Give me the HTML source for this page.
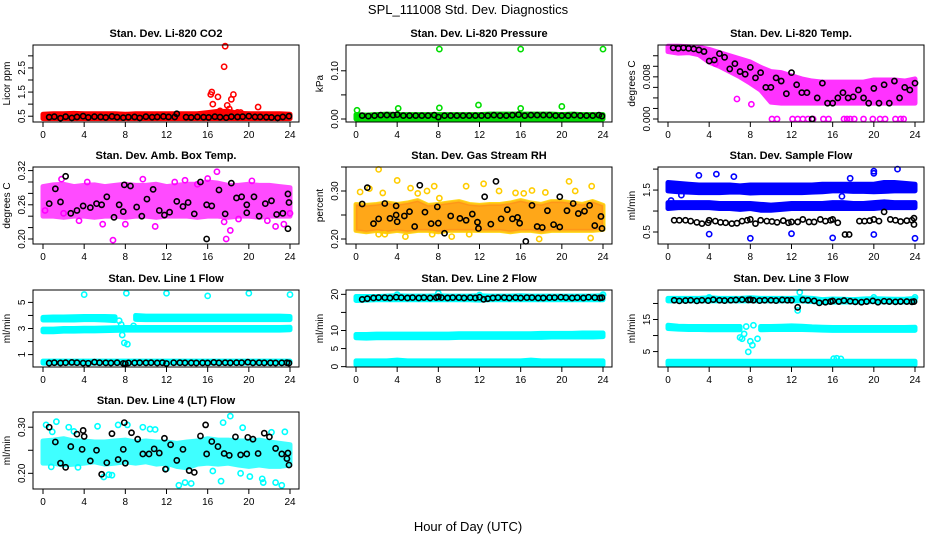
<!DOCTYPE html>
<html><head><meta charset="utf-8"><style>
html,body{margin:0;padding:0;background:#fff;}
svg{display:block;font-family:"Liberation Sans",sans-serif;}
</style></head><body>
<svg id="chart" width="936" height="540" viewBox="0 0 936 540">
<text x="468" y="14" text-anchor="middle" font-size="13">SPL_111008  Std. Dev. Diagnostics</text>
<text x="468" y="531" text-anchor="middle" font-size="13">Hour of Day (UTC)</text>
</svg>
<script>
// ---- data ----
const bandHours=[0,1,2,3,4,5,6,7,8,9,10,11,12,13,14,15,16,17,18,19,20,21,22,23,24];
// CO2
const co2Lo=[0.4,0.4,0.4,0.4,0.4,0.4,0.4,0.4,0.4,0.4,0.4,0.4,0.4,0.4,0.4,0.4,0.4,0.4,0.4,0.4,0.4,0.4,0.4,0.4,0.4];
const co2Hi=[0.58,0.6,0.6,0.62,0.6,0.6,0.6,0.6,0.58,0.6,0.6,0.6,0.6,0.6,0.6,0.6,0.65,0.7,0.7,0.62,0.6,0.6,0.6,0.6,0.58];
const co2OutX=[16.3,16.4,16.5,17.0,17.2,17.6,17.7,17.9,18.1,18.3,18.5,18.9,19.2,20.9];
const co2OutY=[1.4,1.5,1.0,1.3,0.72,2.55,3.4,0.95,0.8,1.2,1.4,0.66,0.65,0.88];
const co2BlkX=[0.6,1.1,1.7,2.2,2.8,3.3,3.9,4.4,5.0,5.6,6.1,6.7,7.2,7.8,8.3,8.9,9.4,10.0,10.6,11.1,11.7,12.2,12.8,13.0,13.9,14.4,15.0,15.6,16.1,16.7,17.2,17.8,18.3,18.9,19.4,20.0,20.6,21.1,21.7,22.2,22.8,23.3,23.9];
const co2BlkY=[0.46,0.48,0.42,0.48,0.43,0.47,0.5,0.45,0.48,0.47,0.45,0.49,0.46,0.44,0.46,0.47,0.43,0.48,0.46,0.47,0.49,0.47,0.47,0.6,0.46,0.45,0.47,0.46,0.45,0.48,0.46,0.44,0.48,0.47,0.48,0.5,0.47,0.47,0.46,0.45,0.43,0.47,0.5];
// Pressure
const prLo=[0,0,0,0,0,0,0,0,0,0,0,0,0,0,0,0,0,0,0,0,0,0,0,0,0];
const prHi=[0.009,0.008,0.009,0.01,0.009,0.009,0.009,0.009,0.009,0.009,0.009,0.009,0.009,0.01,0.01,0.01,0.01,0.01,0.01,0.01,0.009,0.01,0.009,0.009,0.009];
const prOutX=[0.1,4.1,8.1,8.1,11.9,16.0,16.0,20.0,24.0];
const prOutY=[0.018,0.022,0.145,0.023,0.029,0.145,0.022,0.026,0.145];
const prBlkX=[0.6,1.2,1.8,2.4,3.0,3.6,4.0,4.6,5.2,5.8,6.4,7.0,7.6,8.0,8.6,9.2,9.8,10.4,11.0,11.6,12.2,12.8,13.4,14.0,14.6,15.2,15.8,16.4,17.0,17.6,18.2,18.8,19.4,20.0,20.6,21.2,21.8,22.4,23.0,23.6,23.9];
const prBlkY=[0.007,0.006,0.007,0.008,0.008,0.008,0.009,0.007,0.007,0.007,0.007,0.007,0.008,0.004,0.007,0.007,0.007,0.007,0.007,0.007,0.007,0.007,0.008,0.007,0.007,0.008,0.009,0.007,0.008,0.008,0.008,0.008,0.007,0.007,0.007,0.008,0.007,0.007,0.007,0.008,0.006];
// Li-820 Temp
const tLo=[0.0128,0.0125,0.0126,0.0122,0.0108,0.0100,0.0090,0.0080,0.0068,0.0055,0.0032,0.003,0.003,0.003,0.003,0.003,0.003,0.003,0.003,0.003,0.003,0.003,0.003,0.003,0.003];
const tHi=[0.0138,0.0138,0.0137,0.0136,0.0132,0.0126,0.012,0.0114,0.0108,0.0098,0.0090,0.0088,0.0082,0.0076,0.0072,0.0070,0.0070,0.0070,0.0070,0.0070,0.0074,0.0074,0.0074,0.0072,0.0076];
const tOutX=[10.1,10.6,12.1,12.6,13.1,13.6,14.1,15.1,15.6,17.1,17.4,17.7,18.1,19.0,19.9,20.6,21.1,22.1,22.6,22.9,4.6,6.7,8.1];
const tOutY=[0,0,0,0,0,0,0,0,0,0,0,0,0,0,0,0,0,0,0,0,0.0105,0.0038,0.0028];
const tBlkX=[0.5,1.0,1.5,2.0,2.5,3.0,3.5,4.0,4.5,5.0,5.5,6.0,6.5,7.0,7.5,8.0,8.5,9.0,9.5,10.0,10.5,11.0,11.5,12.0,12.5,13.0,13.5,14.0,14.5,15.0,15.5,16.0,16.5,17.0,17.5,18.0,18.5,19.0,19.5,20.0,20.5,21.0,21.5,22.0,22.5,23.0,23.5,24.0];
const tBlkY=[0.0135,0.0134,0.0135,0.0134,0.0133,0.0131,0.0128,0.0110,0.0112,0.0124,0.0117,0.0095,0.0105,0.009,0.0085,0.0098,0.0078,0.0088,0.006,0.006,0.0078,0.0072,0.0048,0.0088,0.0065,0.005,0.005,0,0.0040,0.0068,0.0030,0.0030,0.0040,0.0050,0.0040,0.0042,0.0055,0.0040,0.0030,0.0058,0.0030,0.0065,0.0030,0.0072,0.0040,0.0060,0.0055,0.0068];
// Amb box temp
const abLo=[0.24,0.24,0.238,0.24,0.24,0.238,0.24,0.24,0.238,0.24,0.24,0.238,0.24,0.24,0.24,0.238,0.24,0.24,0.238,0.24,0.24,0.238,0.24,0.24,0.24];
const abHi=[0.292,0.295,0.296,0.292,0.294,0.295,0.292,0.294,0.296,0.294,0.294,0.296,0.292,0.294,0.296,0.296,0.3,0.298,0.294,0.294,0.296,0.294,0.294,0.292,0.29];
const abOutX=[0.2,1.8,3.5,5.8,6.8,8.0,9.7,10.9,13.8,15.0,16.0,16.9,17.8,17.6,19.0,20.3,21.8,22.6,23.4,24.0,4.3,12.8,18.2,2.0];
const abOutY=[0.25,0.305,0.232,0.226,0.198,0.226,0.305,0.222,0.303,0.296,0.306,0.318,0.2,0.23,0.235,0.302,0.232,0.222,0.226,0.245,0.3,0.3,0.215,0.245];
const abBlkX=[0.6,1.2,1.7,2.2,2.7,3.3,3.9,4.6,5.2,5.7,6.2,6.9,7.4,7.9,7.8,8.5,9.1,9.6,10.1,10.7,11.3,11.8,12.3,13.0,13.6,14.1,14.7,15.3,15.9,15.9,16.4,17.1,17.7,18.3,18.8,19.3,19.8,19.8,20.5,21.0,21.6,22.2,22.7,23.3,23.8,23.9,23.8];
const abBlkY=[0.262,0.288,0.265,0.31,0.245,0.25,0.258,0.255,0.262,0.26,0.274,0.238,0.26,0.295,0.248,0.293,0.256,0.24,0.27,0.287,0.25,0.242,0.247,0.266,0.257,0.264,0.244,0.3,0.26,0.2,0.258,0.286,0.244,0.298,0.272,0.274,0.26,0.246,0.274,0.24,0.262,0.267,0.243,0.245,0.279,0.264,0.218];
// Gas stream RH
const rhLo=[0.218,0.215,0.218,0.215,0.218,0.215,0.218,0.218,0.215,0.218,0.218,0.218,0.218,0.218,0.218,0.215,0.218,0.218,0.215,0.218,0.218,0.218,0.218,0.218,0.22];
const rhHi=[0.272,0.27,0.272,0.275,0.272,0.275,0.28,0.27,0.272,0.275,0.278,0.272,0.27,0.272,0.272,0.275,0.28,0.275,0.272,0.278,0.278,0.275,0.272,0.278,0.27];
const rhOutX=[0.4,1.3,2.2,2.2,2.6,4.0,4.8,5.3,6.0,6.9,7.6,8.1,9.3,10.7,11.0,12.4,13.9,15.5,16.3,17.1,17.8,18.4,20.7,21.3,22.8,22.9,2.8,7.4];
const rhOutY=[0.298,0.305,0.345,0.21,0.296,0.322,0.205,0.306,0.295,0.3,0.31,0.285,0.205,0.31,0.21,0.315,0.3,0.296,0.295,0.301,0.2,0.297,0.32,0.3,0.202,0.31,0.21,0.21];
const rhBlkX=[0.6,1.1,1.7,2.2,2.8,3.3,3.9,3.9,4.0,4.7,5.2,5.7,6.2,6.7,7.3,7.9,8.0,8.6,9.2,10.1,10.7,11.3,11.8,11.9,12.5,13.1,13.6,14.1,14.7,15.2,15.7,15.9,16.5,17.1,17.6,18.1,18.6,19.2,19.8,19.8,20.5,21.1,21.6,22.2,22.7,23.2,23.8,23.9];
const rhBlkY=[0.273,0.307,0.232,0.242,0.274,0.243,0.269,0.25,0.236,0.248,0.257,0.226,0.312,0.256,0.232,0.267,0.233,0.212,0.248,0.243,0.239,0.252,0.235,0.222,0.288,0.231,0.32,0.242,0.261,0.242,0.245,0.233,0.195,0.27,0.226,0.224,0.259,0.23,0.288,0.225,0.259,0.274,0.253,0.258,0.27,0.228,0.247,0.222];
// Sample flow
const sfUpLo=[1.48,1.46,1.45,1.44,1.44,1.44,1.45,1.45,1.43,1.44,1.44,1.44,1.44,1.44,1.45,1.46,1.48,1.48,1.47,1.47,1.46,1.47,1.48,1.48,1.48];
const sfUpHi=[1.68,1.66,1.64,1.62,1.62,1.62,1.62,1.6,1.62,1.62,1.62,1.62,1.62,1.62,1.62,1.64,1.64,1.64,1.64,1.64,1.64,1.68,1.68,1.66,1.64];
const sfMidLo=[1.06,1.08,1.08,1.08,1.08,1.06,1.06,1.04,1.06,1.02,1.02,1.04,1.06,1.06,1.06,1.06,1.06,1.06,1.06,1.06,1.06,1.08,1.08,1.08,1.08];
const sfMidHi=[1.2,1.2,1.2,1.2,1.2,1.18,1.18,1.18,1.18,1.16,1.14,1.16,1.18,1.18,1.18,1.18,1.2,1.2,1.18,1.18,1.2,1.22,1.2,1.2,1.2];
const sfOutX=[4.0,8.0,12.0,16.0,20.0,24.0,3.0,4.7,6.4,20.0,20.0,22.3,17.7,0.3,1.3,16.9];
const sfOutY=[0.45,0.35,0.46,0.36,0.44,0.35,1.85,1.88,1.82,1.95,1.9,2.0,1.78,1.25,1.38,1.35];
const sfBlkX=[0.6,1.1,1.7,2.2,2.8,3.3,3.9,4.0,4.6,5.1,5.6,6.2,6.7,7.2,7.7,8.0,8.5,9.0,9.6,10.1,10.6,11.2,11.7,12.0,12.6,13.1,13.7,14.2,14.8,15.3,15.8,16.0,16.5,17.2,17.6,18.6,19.1,19.6,20.0,20.5,21.0,21.6,22.1,22.6,23.2,23.7,23.9,23.9];
const sfBlkY=[0.78,0.78,0.78,0.76,0.73,0.7,0.72,0.78,0.76,0.73,0.72,0.7,0.71,0.76,0.78,0.8,0.7,0.78,0.76,0.75,0.73,0.77,0.72,0.74,0.74,0.8,0.74,0.74,0.8,0.76,0.78,0.8,0.72,0.44,0.44,0.76,0.76,0.77,0.8,0.76,0.98,0.8,0.78,0.75,0.77,0.78,0.68,0.83];
// Line 1 flow
const l1UpLo=[3.65,3.65,3.65,3.65,3.68,3.68,3.65,3.6,null,3.7,3.68,3.68,3.68,3.68,3.68,3.68,3.68,3.68,3.68,3.68,3.68,3.68,3.68,3.68,3.68];
const l1UpHi=[3.85,3.88,3.88,3.9,3.92,3.92,3.92,3.9,null,4.0,3.95,3.95,3.95,3.95,3.95,3.95,3.95,3.95,3.95,3.95,3.95,3.95,3.95,3.95,3.92];
const l1MidLo=[2.75,2.75,2.8,2.8,2.82,2.82,2.84,2.86,2.88,2.88,2.88,2.88,2.88,2.88,2.88,2.88,2.88,2.88,2.88,2.88,2.88,2.88,2.88,2.88,2.9];
const l1MidHi=[2.95,2.95,3.0,3.0,3.02,3.02,3.04,3.06,3.08,3.08,3.08,3.08,3.08,3.08,3.08,3.08,3.08,3.08,3.08,3.08,3.08,3.08,3.08,3.08,3.1];
const l1LoLo=[0.35,0.35,0.35,0.35,0.35,0.35,0.35,0.35,0.35,0.35,0.35,0.35,0.35,0.35,0.35,0.35,0.35,0.35,0.35,0.35,0.35,0.35,0.35,0.35,0.35];
const l1LoHi=[0.5,0.5,0.5,0.5,0.5,0.5,0.5,0.5,0.5,0.5,0.5,0.5,0.5,0.5,0.5,0.5,0.5,0.5,0.5,0.5,0.5,0.5,0.5,0.5,0.5];
const l1OutX=[4.0,8.1,12.0,16.0,20.0,24.0,7.4,7.6,7.7,7.9,8.2,8.8];
const l1OutY=[5.6,5.7,5.7,5.5,5.7,5.6,3.6,3.3,2.5,1.9,1.8,3.2];
const l1BlkX=[0.6,1.1,1.7,2.2,2.8,3.3,3.9,4.4,5.0,5.5,6.1,6.6,7.2,7.8,8.0,8.3,8.9,9.4,10.0,10.5,11.1,11.6,12.0,12.7,13.3,13.8,14.4,14.9,15.5,16.0,16.6,17.1,17.7,18.2,18.8,19.3,19.9,20.4,21.0,21.5,22.1,22.6,23.2,23.7,23.9];
const l1BlkY=[0.35,0.38,0.36,0.38,0.4,0.38,0.35,0.34,0.42,0.38,0.37,0.36,0.38,0.33,0.3,0.36,0.37,0.38,0.37,0.38,0.36,0.38,0.32,0.38,0.38,0.37,0.37,0.36,0.37,0.36,0.4,0.37,0.38,0.37,0.38,0.38,0.42,0.37,0.38,0.37,0.37,0.36,0.37,0.38,0.35];
// Line 2 flow
const l2UpLo=[18.3,18.4,18.5,18.5,18.5,18.5,18.5,18.5,18.5,18.5,18.5,18.5,18.4,18.5,18.5,18.5,18.5,18.5,18.5,18.5,18.5,18.5,18.5,18.5,18.5];
const l2UpHi=[19.4,19.4,19.4,19.5,19.6,19.5,19.5,19.5,19.6,19.5,19.5,19.5,19.6,19.5,19.5,19.5,19.6,19.5,19.5,19.5,19.5,19.5,19.5,19.5,19.6];
const l2MidLo=[8.0,7.9,8.0,8.0,8.0,8.0,8.0,8.0,8.0,8.0,8.1,8.1,8.1,8.1,8.1,8.1,8.1,8.1,8.1,8.2,8.2,8.2,8.2,8.2,8.3];
const l2MidHi=[8.9,8.9,9.0,9.0,9.0,9.0,9.0,9.0,9.0,9.0,9.1,9.1,9.1,9.1,9.1,9.1,9.1,9.1,9.2,9.2,9.2,9.2,9.3,9.3,9.3];
const l2LoLo=[0.5,0.5,0.5,0.5,0.5,0.5,0.5,0.5,0.5,0.5,0.5,0.5,0.5,0.5,0.5,0.5,0.5,0.5,0.5,0.5,0.5,0.5,0.5,0.5,0.5];
const l2LoHi=[1.6,1.6,1.6,1.6,1.8,1.6,1.6,1.6,1.6,1.6,1.6,1.6,1.6,1.6,1.6,1.6,1.6,1.8,1.6,1.6,1.6,1.6,1.6,1.6,1.6];
const l2OutX=[4.0,8.0,12.0,24.0];
const l2OutY=[19.9,20.3,19.8,19.9];
const l2BlkX=[0.6,1.1,1.7,2.2,2.8,3.3,3.9,4.4,5.0,5.5,6.1,6.6,7.2,7.8,8.0,8.3,8.9,9.4,10.0,10.5,11.1,11.6,12.0,12.4,12.8,13.3,13.8,14.4,14.9,15.5,16.0,16.6,17.1,17.7,18.2,18.8,19.3,19.9,20.4,21.0,21.5,22.1,22.6,23.2,23.7,23.9];
const l2BlkY=[18.6,18.8,19.0,19.1,19.1,19.0,19.2,19.1,19.0,19.1,19.0,19.1,19.0,19.1,19.3,19.1,19.0,19.1,19.1,19.0,19.1,19.0,19.2,18.6,18.8,19.0,19.1,19.1,19.0,19.1,19.0,19.1,19.1,19.0,19.0,19.1,19.1,19.2,19.1,19.0,19.1,19.0,19.2,19.1,19.0,19.1];
// Line 3 flow
const l3UpLo=[20.8,20.8,20.8,20.8,20.8,20.8,20.8,20.8,20.8,20.8,20.8,20.8,20.8,20.8,20.6,20.3,20.4,20.5,20.4,20.5,20.6,20.5,20.5,20.5,20.6];
const l3UpHi=[21.6,21.6,21.6,21.6,21.8,21.6,21.6,21.6,21.8,21.6,21.6,21.6,21.6,21.8,21.6,21.2,21.4,21.3,21.2,21.4,21.5,21.4,21.3,21.3,21.6];
const l3MidLo=[12.2,12.0,11.9,11.9,11.8,11.8,11.8,11.8,null,11.8,11.9,11.9,11.9,11.9,11.8,11.7,11.6,11.6,11.6,11.6,11.6,11.6,11.6,11.6,11.6];
const l3MidHi=[13.2,12.9,12.8,12.8,12.8,12.8,12.8,12.8,null,12.8,12.8,12.9,13.0,12.9,12.7,12.6,12.5,12.5,12.5,12.5,12.5,12.5,12.5,12.5,12.6];
const l3LoLo=[0.9,0.9,0.9,0.9,0.9,0.9,0.9,0.9,0.9,0.9,0.9,0.9,0.9,0.9,0.9,0.9,0.9,0.9,0.9,0.9,0.9,0.9,0.9,0.9,0.9];
const l3LoHi=[2.0,2.0,2.0,2.0,2.0,2.0,2.0,2.0,2.0,2.0,2.0,2.0,2.0,2.0,2.0,2.0,2.0,2.0,2.0,2.0,2.0,2.0,2.0,2.0,2.0];
const l3OutX=[7.0,7.2,7.4,7.6,7.8,8.0,8.2,8.7,8.3,12.6,12.8,16.1,16.4,16.8,4.0,20.0,24.0];
const l3OutY=[9.4,9.0,10.5,12.8,4.9,8.2,7.0,9.0,13.2,17.8,23.5,2.8,2.9,2.7,21.9,21.9,21.9];
const l3BlkX=[0.6,1.1,1.7,2.2,2.8,3.3,3.9,4.4,5.0,5.5,6.1,6.6,7.2,7.8,8.0,8.3,8.9,9.4,10.0,10.5,11.1,11.6,12.0,12.6,13.1,13.6,14.2,14.7,15.3,15.8,16.0,16.6,17.1,17.7,18.2,18.8,19.3,19.9,20.4,21.0,21.5,22.1,22.6,23.2,23.7,23.9];
const l3BlkY=[21.0,20.8,20.9,21.0,20.8,21.0,20.9,21.2,21.0,20.9,21.0,21.1,21.2,21.1,21.2,21.0,20.9,21.0,21.0,20.9,21.1,21.0,21.0,18.8,21.1,21.0,20.8,20.2,20.4,20.6,20.8,20.6,20.9,20.7,20.5,20.4,20.6,20.8,20.4,20.7,20.6,20.5,20.6,20.6,20.5,20.6];
// Line 4 flow
const l4Lo=[0.222,0.222,0.218,0.22,0.222,0.225,0.22,0.222,0.225,0.222,0.225,0.22,0.222,0.215,0.212,0.22,0.222,0.22,0.222,0.218,0.215,0.218,0.215,0.215,0.218];
const l4Hi=[0.27,0.272,0.275,0.27,0.27,0.268,0.268,0.27,0.272,0.268,0.27,0.268,0.268,0.265,0.268,0.27,0.275,0.272,0.272,0.27,0.27,0.272,0.268,0.265,0.262];
const l4OutX=[0.3,0.8,1.3,2.5,3.0,3.4,5.3,5.9,6.4,6.7,7.3,8.2,9.7,10.4,10.9,13.2,13.8,14.4,16.5,17.3,17.5,18.2,19.2,19.4,20.1,21.3,22.2,22.6,23.2,23.5,0.9,12.0,21.4];
const l4OutY=[0.305,0.214,0.312,0.3,0.291,0.213,0.302,0.192,0.197,0.196,0.305,0.305,0.3,0.296,0.295,0.174,0.18,0.178,0.205,0.183,0.31,0.324,0.2,0.299,0.193,0.188,0.289,0.18,0.174,0.29,0.29,0.21,0.18];
const l4BlkX=[0.6,1.2,1.7,2.2,2.7,3.3,3.8,3.9,4.0,4.6,5.2,5.7,6.2,6.7,7.3,7.8,7.9,8.0,8.6,9.2,9.7,10.3,10.8,11.3,11.8,11.9,12.4,13.0,13.6,14.2,14.7,15.3,15.8,15.9,16.4,17.0,17.6,18.1,18.7,19.2,19.8,19.9,20.4,20.9,21.5,22.0,22.6,23.2,23.7,23.8,23.9];
const l4BlkY=[0.3,0.268,0.222,0.213,0.258,0.285,0.252,0.293,0.28,0.227,0.25,0.198,0.223,0.286,0.23,0.252,0.31,0.222,0.288,0.274,0.242,0.242,0.253,0.244,0.276,0.209,0.262,0.228,0.252,0.206,0.202,0.281,0.305,0.242,0.269,0.258,0.243,0.239,0.279,0.24,0.242,0.278,0.274,0.243,0.287,0.279,0.254,0.242,0.232,0.244,0.218];

// ---- layout ----
const NS="http://www.w3.org/2000/svg";
const svg=document.getElementById('chart');
const colX=[33,346,658], rowY=[45,167,290,412], BW=266, BH=77;
const xTicks=[0,4,8,12,16,20,24];
function mk(tag,attrs,parent){const e=document.createElementNS(NS,tag);for(const k in attrs)e.setAttribute(k,attrs[k]);(parent||svg).appendChild(e);return e;}

const panels=[
 {id:'co2',c:0,r:0,title:'Stan. Dev. Li-820 CO2',ylab:'Licor ppm',ylim:[0.26,3.45],ticks:[0.5,1,1.5,2,2.5,3],labels:[[0.5,'0.5'],[1.5,'1.5'],[2.5,'2.5']],col:'#ff0000',bands:[[co2Lo,co2Hi]],ox:co2OutX,oy:co2OutY,bx:co2BlkX,by:co2BlkY,op:1},
 {id:'pressure',c:1,r:0,title:'Stan. Dev. Li-820 Pressure',ylab:'kPa',ylim:[-0.00625,0.1535],ticks:[0,0.05,0.1],labels:[[0,'0.00'],[0.1,'0.10']],col:'#00dd00',bands:[[prLo,prHi]],ox:prOutX,oy:prOutY,bx:prBlkX,by:prBlkY,op:1},
 {id:'li820-temp',c:2,r:0,title:'Stan. Dev. Li-820 Temp.',ylab:'degrees C',ylim:[-0.00057,0.01404],ticks:[0,0.002,0.004,0.006,0.008,0.010,0.012],labels:[[0,'0.000'],[0.008,'0.008']],col:'#ff00ff',bands:[[tLo,tHi]],ox:tOutX,oy:tOutY,bx:tBlkX,by:tBlkY,op:0.8},
 {id:'amb-box-temp',c:0,r:1,title:'Stan. Dev. Amb. Box Temp.',ylab:'degrees C',ylim:[0.1912,0.3263],ticks:[0.2,0.22,0.24,0.26,0.28,0.3,0.32],labels:[[0.2,'0.20'],[0.26,'0.26'],[0.32,'0.32']],col:'#ff00ff',bands:[[abLo,abHi]],ox:abOutX,oy:abOutY,bx:abBlkX,by:abBlkY,op:0.7},
 {id:'gas-stream-rh',c:1,r:1,title:'Stan. Dev. Gas Stream RH',ylab:'percent',ylim:[0.1896,0.35],ticks:[0.2,0.25,0.3,0.35],labels:[[0.2,'0.20'],[0.3,'0.30']],col:'#ffd400',bands:[[rhLo,rhHi]],ox:rhOutX,oy:rhOutY,bx:rhBlkX,by:rhBlkY,op:0.9,out2:'#ff2200'},
 {id:'sample-flow',c:2,r:1,title:'Stan. Dev. Sample Flow',ylab:'ml/min',ylim:[0.214,2.05],ticks:[0.5,1,1.5,2],labels:[[0.5,'0.5'],[1.5,'1.5']],col:'#0000ff',bands:[[sfUpLo,sfUpHi],[sfMidLo,sfMidHi]],ox:sfOutX,oy:sfOutY,bx:sfBlkX,by:sfBlkY,op:1},
 {id:'line1-flow',c:0,r:2,title:'Stan. Dev. Line 1 Flow',ylab:'ml/min',ylim:[0.05,5.95],ticks:[1,2,3,4,5],labels:[[1,'1'],[3,'3'],[5,'5']],col:'#00ffff',bands:[[l1UpLo,l1UpHi],[l1MidLo,l1MidHi],[l1LoLo,l1LoHi]],ox:l1OutX,oy:l1OutY,bx:l1BlkX,by:l1BlkY,op:1},
 {id:'line2-flow',c:1,r:2,title:'Stan. Dev. Line 2 Flow',ylab:'ml/min',ylim:[-0.1,21.2],ticks:[0,5,10,15,20],labels:[[0,'0'],[5,'5'],[10,'10'],[20,'20']],col:'#00ffff',bands:[[l2UpLo,l2UpHi],[l2MidLo,l2MidHi],[l2LoLo,l2LoHi]],ox:l2OutX,oy:l2OutY,bx:l2BlkX,by:l2BlkY,op:1},
 {id:'line3-flow',c:2,r:2,title:'Stan. Dev. Line 3 Flow',ylab:'ml/min',ylim:[0.19,24.2],ticks:[5,10,15,20],labels:[[5,'5'],[15,'15']],col:'#00ffff',bands:[[l3UpLo,l3UpHi],[l3MidLo,l3MidHi],[l3LoLo,l3LoHi]],ox:l3OutX,oy:l3OutY,bx:l3BlkX,by:l3BlkY,op:1},
 {id:'line4-flow',c:0,r:3,title:'Stan. Dev. Line 4 (LT) Flow',ylab:'ml/min',ylim:[0.166,0.333],ticks:[0.2,0.25,0.3],labels:[[0.2,'0.20'],[0.3,'0.30']],col:'#00ffff',bands:[[l4Lo,l4Hi]],ox:l4OutX,oy:l4OutY,bx:l4BlkX,by:l4BlkY,op:0.75}
];

panels.forEach(p=>{
 const bx=colX[p.c], by=rowY[p.r];
 const xs=v=>bx+10+v*(247/24);
 const ys=v=>by+BH-(v-p.ylim[0])/(p.ylim[1]-p.ylim[0])*BH;
 const g=mk('g',{});
 
 
 const t=mk('text',{x:bx+BW/2,y:by-8,'text-anchor':'middle','font-size':'11','font-weight':'bold'},g);
 t.textContent=p.title;
 
 
 const bandG=mk('g',{opacity:p.op},g);
 
 
 p.bands.forEach(([lo,hi])=>{
  // split into runs of non-null indices
  let runs=[],cur=[];
  for(let i=0;i<bandHours.length;i++){
   if(lo[i]==null){if(cur.length)runs.push(cur);cur=[];}else cur.push(i);
  }
  if(cur.length)runs.push(cur);
  runs.forEach(run=>{
   if(run.length<2)return;
   const top=run.map(i=>[xs(bandHours[i]),ys(hi[i])]);
   const bot=run.slice().reverse().map(i=>[xs(bandHours[i]),ys(lo[i])]);
   const pts=top.concat(bot).map(q=>q.join(',')).join(' ');
   const pg=mk('polygon',{points:pts,fill:p.col,stroke:p.col,'stroke-width':5,'stroke-linejoin':'round'},bandG);
   
   
   if(p.out2){
    const sh=mk('polygon',{points:pts,fill:p.out2,'fill-opacity':0.3,stroke:p.out2,'stroke-opacity':0.15,'stroke-width':3},bandG);
    
    
   }
  });
 });
 p.ox.forEach((x,i)=>{
  const c=mk('circle',{cx:xs(x),cy:ys(p.oy[i]),r:2.6,fill:'none',stroke:p.out2?'#ffcc00':p.col,'stroke-width':1.6},g);
  
  
 });
 p.bx.forEach((x,i)=>{
  const c=mk('circle',{cx:xs(x),cy:ys(p.by[i]),r:2.6,fill:'none',stroke:'#000','stroke-width':1.6},g);
  
  
 });
 const box=mk('rect',{x:bx,y:by,width:BW,height:BH,fill:'none',stroke:'#000','stroke-width':1},g);
 
 
 mk('line',{x1:xs(0),x2:xs(24),y1:by+BH,y2:by+BH,stroke:'#000'},g);
 xTicks.forEach(v=>{
  mk('line',{x1:xs(v),x2:xs(v),y1:by+BH,y2:by+BH+5,stroke:'#000'},g);
  const tl=mk('text',{x:xs(v),y:by+BH+16,'text-anchor':'middle','font-size':'10'},g);
  tl.textContent=v;
  
  
 });
 mk('line',{x1:bx,x2:bx,y1:ys(p.ticks[0]),y2:ys(p.ticks[p.ticks.length-1]),stroke:'#000'},g);
 p.ticks.forEach(v=>mk('line',{x1:bx-5,x2:bx,y1:ys(v),y2:ys(v),stroke:'#000'},g));
 p.labels.forEach(([v,s])=>{
  const yl=mk('text',{x:0,y:0,'text-anchor':'middle','font-size':'10',transform:`translate(${bx-8},${ys(v)}) rotate(-90)`},g);
  yl.textContent=s;
  
  
 });
 const ya=mk('text',{x:0,y:0,'text-anchor':'middle','font-size':'10',transform:`translate(${bx-23},${by+BH/2}) rotate(-90)`},g);
 ya.textContent=p.ylab;
 
 
});
</script>
</body></html>
